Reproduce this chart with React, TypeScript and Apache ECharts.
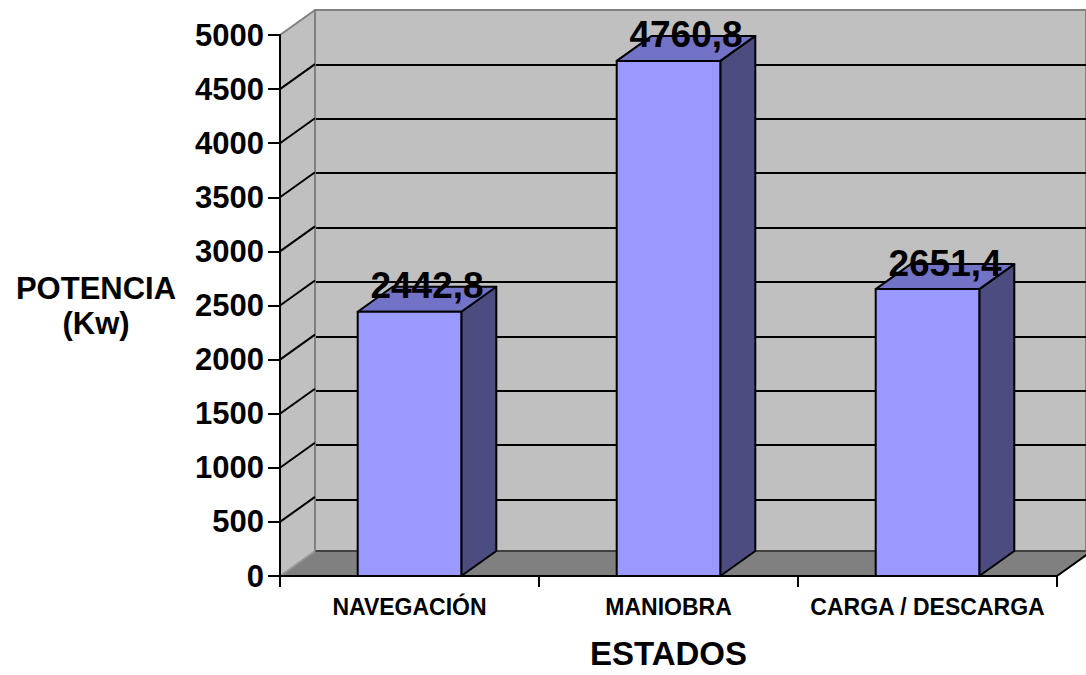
import React, { useEffect, useRef } from "react";
import * as echarts from "echarts";

const CATEGORIES = ["NAVEGACIÓN", "MANIOBRA", "CARGA / DESCARGA"];
const POWER_KW = [2442.8, 4760.8, 2651.4];
const Y_MIN = 0;
const Y_MAX = 5000;
const Y_STEP = 500;
const X_TITLE = "ESTADOS";
const Y_TITLE = "POTENCIA\n(Kw)";

const FONT = 'Arial, "Liberation Sans", Helvetica, sans-serif';
const DX = 35;
const DY = -25;

export default function App() {
  const ref = useRef<HTMLDivElement>(null);

  useEffect(() => {
    document.body.style.margin = "0";
    if (!ref.current) return;
    const chart = echarts.init(ref.current, undefined, { renderer: "svg" });

    const ticks: number[] = [];
    for (let v = Y_MIN; v <= Y_MAX; v += Y_STEP) ticks.push(v);
    const splitColors = ticks.map((v) =>
      v === Y_MIN ? "#404040" : v === Y_MAX ? "#808080" : "#000000"
    );

    const option: any = {
      animation: false,
      grid: [
        { left: 280, top: 35, width: 777, height: 544 },
        {
          left: 315,
          top: 10,
          width: 777,
          height: 544,
          show: true,
          backgroundColor: "#c0c0c0",
          borderColor: "#808080",
          borderWidth: 2,
        },
      ],
      xAxis: [
        {
          type: "category",
          gridIndex: 0,
          data: CATEGORIES,
          z: 5,
          axisLine: { show: true, lineStyle: { color: "#000", width: 2 } },
          axisTick: { show: true, length: 11, lineStyle: { color: "#000", width: 2 } },
          axisLabel: {
            interval: 0,
            margin: 19,
            color: "#000",
            fontSize: 23,
            fontWeight: "bold",
            fontFamily: FONT,
          },
          splitLine: { show: false },
          name: X_TITLE,
          nameLocation: "middle",
          nameGap: 61,
          nameTextStyle: {
            color: "#000",
            fontSize: 33,
            fontWeight: "bold",
            fontFamily: FONT,
          },
        },
        {
          type: "category",
          gridIndex: 1,
          data: CATEGORIES,
          show: false,
        },
      ],
      yAxis: [
        {
          type: "value",
          gridIndex: 0,
          min: Y_MIN,
          max: Y_MAX,
          interval: Y_STEP,
          z: 5,
          axisLine: { show: true, lineStyle: { color: "#000", width: 2 } },
          axisTick: { show: true, length: 12, lineStyle: { color: "#000", width: 2 } },
          axisLabel: {
            margin: 16,
            color: "#000",
            fontSize: 31,
            fontWeight: "bold",
            fontFamily: FONT,
            formatter: (v: number) => String(v),
          },
          splitLine: { show: false },
        },
        {
          type: "value",
          gridIndex: 1,
          min: Y_MIN,
          max: Y_MAX,
          interval: Y_STEP,
          axisLine: { show: false },
          axisTick: { show: false },
          axisLabel: { show: false },
          splitLine: { show: true, lineStyle: { color: splitColors, width: 2 } },
        },
      ],
      series: [
        {
          type: "custom",
          name: "walls",
          xAxisIndex: 0,
          yAxisIndex: 0,
          z: 1,
          silent: true,
          data: [[0, 0]],
          renderItem: (params: any, api: any) => {
            const cs = params.coordSys;
            const x0 = cs.x;
            const x1 = cs.x + cs.width;
            const yb = cs.y + cs.height;
            const yt = cs.y;
            const children: any[] = [
              {
                type: "polygon",
                shape: {
                  points: [
                    [x0, yb],
                    [x0 + DX, yb + DY],
                    [x1 + DX, yb + DY],
                    [x1, yb],
                  ],
                },
                style: { fill: "#808080", stroke: "none" },
              },
              {
                type: "polygon",
                shape: {
                  points: [
                    [x0, yb],
                    [x0 + DX, yb + DY],
                    [x0 + DX, yt + DY],
                    [x0, yt],
                  ],
                },
                style: { fill: "#c0c0c0", stroke: "none" },
              },
              {
                type: "line",
                shape: { x1: x0 + DX, y1: yb + DY, x2: x1 + DX, y2: yb + DY },
                style: { stroke: "#404040", lineWidth: 2 },
              },
              {
                type: "line",
                shape: { x1: x1, y1: yb, x2: x1 + DX, y2: yb + DY },
                style: { stroke: "#000", lineWidth: 2 },
              },
              {
                type: "line",
                shape: { x1: x0 + DX, y1: yt + DY, x2: x0 + DX, y2: yb + DY },
                style: { stroke: "#808080", lineWidth: 2 },
              },
            ];
            ticks.forEach((v) => {
              const y = api.coord([0, v])[1];
              children.push({
                type: "line",
                shape: { x1: x0, y1: y, x2: x0 + DX, y2: y + DY },
                style: {
                  stroke: v === Y_MIN ? "#999999" : v === Y_MAX ? "#808080" : "#000",
                  lineWidth: 2,
                },
              });
            });
            return { type: "group", children };
          },
        },
        {
          type: "custom",
          name: "POTENCIA",
          xAxisIndex: 0,
          yAxisIndex: 0,
          z: 3,
          data: POWER_KW.map((v, i) => [i, v]),
          renderItem: (params: any, api: any) => {
            const i = api.value(0);
            const v = api.value(1);
            const [cx, yTop] = api.coord([i, v]);
            const yBase = api.coord([i, 0])[1];
            const w = api.size([1, 0])[0] * 0.4;
            const l = cx - w / 2;
            const r = cx + w / 2;
            const edge = { stroke: "#000", lineWidth: 2, lineJoin: "round" };
            return {
              type: "group",
              children: [
                {
                  type: "polygon",
                  shape: {
                    points: [
                      [r, yBase],
                      [r + DX, yBase + DY],
                      [r + DX, yTop + DY],
                      [r, yTop],
                    ],
                  },
                  style: { fill: "#4c4c80", ...edge },
                },
                {
                  type: "polygon",
                  shape: {
                    points: [
                      [l, yTop],
                      [l + DX, yTop + DY],
                      [r + DX, yTop + DY],
                      [r, yTop],
                    ],
                  },
                  style: { fill: "#7272c6", ...edge },
                },
                {
                  type: "rect",
                  shape: { x: l, y: yTop, width: w, height: yBase - yTop },
                  style: { fill: "#9999ff", ...edge },
                },
                {
                  type: "text",
                  style: {
                    text: v.toFixed(1).replace(".", ","),
                    x: cx + DX / 2,
                    y: yTop + DY - 1,
                    align: "center",
                    verticalAlign: "middle",
                    fill: "#000",
                    fontSize: 37,
                    fontWeight: "bold",
                    fontFamily: FONT,
                  },
                },
              ],
            };
          },
        },
      ],
      graphic: [
        {
          type: "text",
          x: 96,
          y: 306,
          style: {
            text: Y_TITLE,
            align: "center",
            verticalAlign: "middle",
            fill: "#000",
            fontSize: 31,
            fontWeight: "bold",
            fontFamily: FONT,
            lineHeight: 35,
          },
        },
      ],
    };

    chart.setOption(option);
    return () => chart.dispose();
  }, []);

  return <div ref={ref} style={{ width: 1086, height: 675 }} />;
}
